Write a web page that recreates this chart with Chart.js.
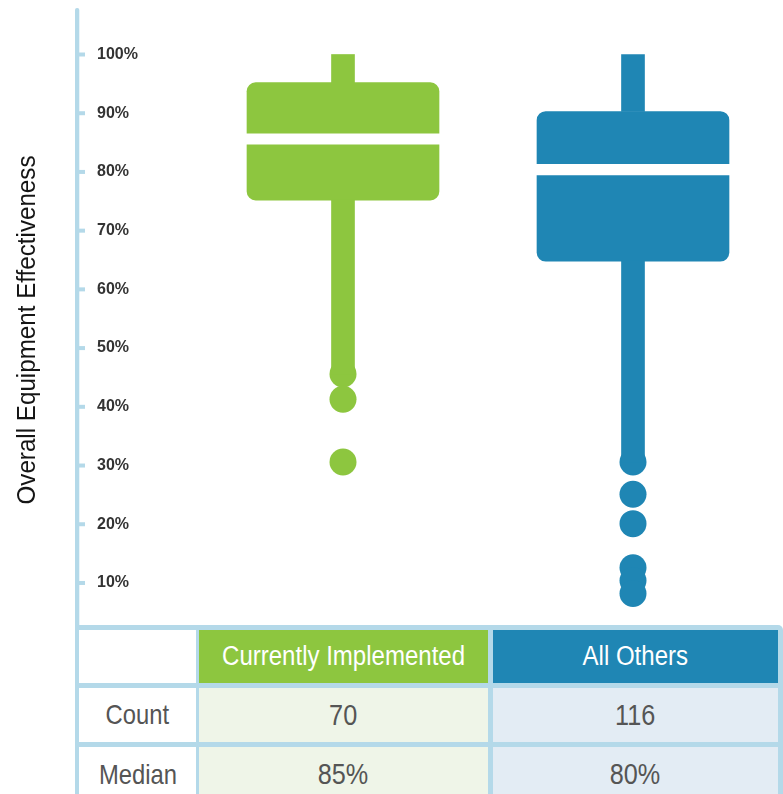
<!DOCTYPE html>
<html lang="en">
<head>
    <meta charset="UTF-8">
    <title>Overall Equipment Effectiveness</title>
    <script src="https://cdn.jsdelivr.net/npm/chart.js"></script>
    <style>
        body { margin: 0; background: #fff; }
        .page { position: relative; width: 783px; height: 794px; overflow: hidden; }
        .chart-box { position: absolute; left: 0; top: 0; width: 783px; height: 625px; }
        .stats {
            position: absolute; left: 75px; top: 625px; width: 708px; height: 180px;
            background: #b4d9e9; border-top-right-radius: 5px;
            font-family: "Liberation Sans", Arial, sans-serif;
        }
        .cell {
            position: absolute; display: flex; align-items: center; justify-content: center;
            color: #555; font-size: 28px;
        }
        .cell span { display: inline-block; white-space: nowrap; transform: scaleX(0.85); }
        .c1 { left: 4px; width: 117px; background: #fff; }
        .c2 { left: 124px; width: 289px; }
        .c3 { left: 418px; width: 285px; }
        .r0 { top: 5px; height: 53px; }
        .r1 { top: 63px; height: 54px; }
        .r2 { top: 122px; height: 55px; }
        .head { color: #fff; font-size: 27px; }
        .head span { transform: scaleX(0.89); }
        .num { font-size: 29px; }
        .num span { transform: scaleX(0.87); }
    </style>
</head>
<body>
<div class="page">
    <div class="chart-box"><canvas id="oeeChart"></canvas></div>
    <div class="stats" id="stats"></div>
</div>

<script>
    // values (percent)
    const categories = ['Currently Implemented', 'All Others'];
    const whiskerMax = [100, 100];
    const boxQ3 = [95.2, 90.3];
    const boxMedian = [85.6, 80.4];
    const boxQ1 = [75.2, 64.8];
    const whiskerMin = [45.6, 30.6];
    const outliersImplemented = [45.6, 41.3, 30.6];
    const outliersOthers = [30.6, 25.1, 20.1, 12.6, 10.4, 8.2];
    const yTicks = [10, 20, 30, 40, 50, 60, 70, 80, 90, 100];

    const rowLabels = ['Count', 'Median'];
    const countValues = ['70', '116'];
    const medianLabels = ['85%', '80%'];

    const colors = ['#8dc63f', '#1f86b4'];
    const cellColors = ['#eff5e8', '#e3ecf4'];
    const axisColor = '#b4d9e9';
    const gap = 1.0; // half of the white gap at the median

    // table under the chart
    const stats = document.getElementById('stats');
    function addCell(cls, text, bg) {
        const d = document.createElement('div');
        d.className = 'cell ' + cls;
        const s = document.createElement('span');
        s.textContent = text;
        d.appendChild(s);
        if (bg) d.style.background = bg;
        stats.appendChild(d);
    }
    addCell('c1 r0', '');
    addCell('c2 r0 head', categories[0], colors[0]);
    addCell('c3 r0 head', categories[1], colors[1]);
    addCell('c1 r1', rowLabels[0]);
    addCell('c2 r1 num', countValues[0], cellColors[0]);
    addCell('c3 r1 num', countValues[1], cellColors[1]);
    addCell('c1 r2', rowLabels[1]);
    addCell('c2 r2 num', medianLabels[0], cellColors[0]);
    addCell('c3 r2 num', medianLabels[1], cellColors[1]);

    // axis line, tick stubs and the rotated title
    const axisDecor = {
        id: 'axisDecor',
        afterDraw(chart) {
            const ctx = chart.ctx;
            const y = chart.scales.y;
            ctx.save();
            ctx.fillStyle = axisColor;
            ctx.beginPath();
            ctx.roundRect(75, 8, 4.3, chart.height - 8 + 2, [2, 2, 0, 0]);
            ctx.fill();
            yTicks.forEach(v => {
                const py = y.getPixelForValue(v);
                ctx.fillRect(78, py - 2, 7, 4);
            });
            ctx.translate(28, 330);
            ctx.rotate(-Math.PI / 2);
            ctx.scale(0.93, 1);
            ctx.fillStyle = '#151515';
            ctx.font = '26px "Liberation Sans", Arial, sans-serif';
            ctx.textAlign = 'center';
            ctx.textBaseline = 'middle';
            ctx.fillText('Overall Equipment Effectiveness', 0, 0);
            ctx.restore();
        }
    };

    const pts = (vals, i) => vals.map(v => ({ x: categories[i], y: v }));

    const ctx = document.getElementById('oeeChart').getContext('2d');
    const oeeChart = new Chart(ctx, {
        type: 'bar',
        data: {
            labels: categories,
            datasets: [
                {
                    label: 'upper whisker',
                    data: categories.map((c, i) => [boxQ3[i], whiskerMax[i]]),
                    backgroundColor: colors,
                    barThickness: 23,
                    grouped: false,
                    borderSkipped: false
                },
                {
                    label: 'lower whisker',
                    data: categories.map((c, i) => [whiskerMin[i], boxQ1[i]]),
                    backgroundColor: colors,
                    barThickness: 23,
                    grouped: false,
                    borderSkipped: false
                },
                {
                    label: 'box upper',
                    data: categories.map((c, i) => [boxMedian[i] + gap, boxQ3[i]]),
                    backgroundColor: colors,
                    barThickness: 192,
                    grouped: false,
                    borderSkipped: false,
                    borderRadius: { topLeft: 9, topRight: 9, bottomLeft: 0, bottomRight: 0 }
                },
                {
                    label: 'box lower',
                    data: categories.map((c, i) => [boxQ1[i], boxMedian[i] - gap]),
                    backgroundColor: colors,
                    barThickness: 192,
                    grouped: false,
                    borderSkipped: false,
                    borderRadius: { topLeft: 0, topRight: 0, bottomLeft: 9, bottomRight: 9 }
                },
                {
                    type: 'line',
                    label: 'outliers implemented',
                    data: pts(outliersImplemented, 0),
                    showLine: false,
                    pointRadius: 13.5,
                    pointHoverRadius: 13.5,
                    pointBorderWidth: 0,
                    pointBackgroundColor: colors[0]
                },
                {
                    type: 'line',
                    label: 'outliers others',
                    data: pts(outliersOthers, 1),
                    showLine: false,
                    pointRadius: 13.5,
                    pointHoverRadius: 13.5,
                    pointBorderWidth: 0,
                    pointBackgroundColor: colors[1]
                }
            ]
        },
        options: {
            responsive: true,
            maintainAspectRatio: false,
            animation: false,
            layout: { autoPadding: false, padding: { left: 97, top: 8, right: 5, bottom: 0 } },
            plugins: {
                legend: { display: false },
                tooltip: { enabled: false }
            },
            scales: {
                x: {
                    type: 'category',
                    display: false,
                    offset: true
                },
                y: {
                    min: 2.84,
                    max: 107.92,
                    grid: { display: false },
                    border: { display: false },
                    afterBuildTicks: s => { s.ticks = yTicks.map(v => ({ value: v })); },
                    afterFit: s => { s.width = 101; s.paddingTop = 0; s.paddingBottom = 0; },
                    ticks: {
                        crossAlign: 'far',
                        color: '#333',
                        font: { family: '"Liberation Sans", Arial, sans-serif', size: 16, weight: 'bold' },
                        callback: v => v + '%'
                    }
                }
            }
        },
        plugins: [axisDecor]
    });
</script>
</body>
</html>
